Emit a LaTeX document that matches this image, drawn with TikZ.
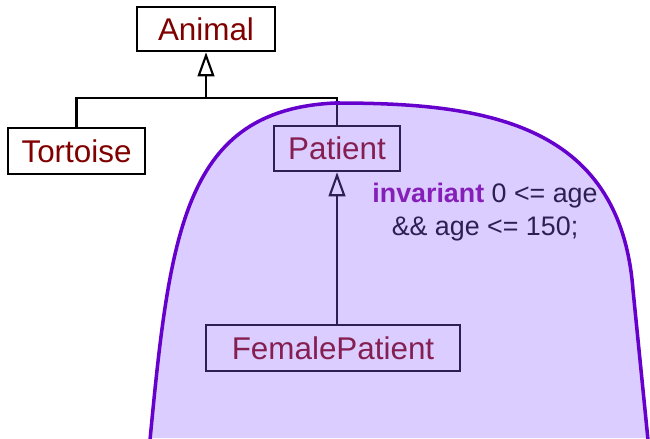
\documentclass[tikz,border=0pt]{standalone}
\usepackage{fontspec}
\setmainfont{Liberation Sans}
\usetikzlibrary{arrows.meta}
\definecolor{classred}{RGB}{128,0,0}
\definecolor{invpurple}{RGB}{128,0,150}
\definecolor{blobfill}{RGB}{144,98,255}
\definecolor{blobline}{RGB}{102,0,204}

\begin{document}
\begin{tikzpicture}[
  x=0.03cm, y=0.03cm,
  my class/.style={
    draw, line width=2.2pt,
    text=classred,
    font=\fontsize{26.8}{30}\selectfont,
    inner sep=0pt,
  },
  my inherit/.style={
    line width=2.2pt,
    -{Triangle[open, length=0.72cm, width=0.5cm, line width=1.8pt]},
  }]
  \useasboundingbox (0,0) rectangle (650,438);
  \node[my class, minimum width=4.14cm, minimum height=1.32cm] (Animal) at (206,409) {Animal};
  \node[my class, minimum width=4.11cm, minimum height=1.38cm] (Tortoise) at (76.5,287) {Tortoise};
  \node[my class, minimum width=3.78cm, minimum height=1.35cm] (Patient) at (337,289.5) {Patient};
  \node[my class, minimum width=7.62cm, minimum height=1.38cm] (FemalePatient) at (333,90) {FemalePatient};
  \coordinate (junction) at (206,340);
  \draw[line width=2.2pt] (Tortoise.north) |- (junction) -| (Patient.north);
  \draw[my inherit] (junction) -- (Animal.south);
  \draw[my inherit] (Patient.south |- FemalePatient.north) -- (Patient.south);
  \node[align=center, font=\fontsize{22.9}{28.2}\selectfont] (inv) at (485,226)
    {\textcolor{invpurple}{\textbf{invariant}} 0 <= age\\ \&\& age <= 150;};
  % the shaded region
  \fill[blobfill, fill opacity=0.32] (150,0) .. controls (170,208) and (185,328) .. (335,335)
    .. controls (480,335) and (620,318) .. (633,148) -- (648,0) -- cycle;
  \draw[blobline, line width=3pt] (150,-2) .. controls (170,208) and (185,328) .. (335,335)
    .. controls (480,335) and (620,318) .. (633,148) -- (648,-2);
\end{tikzpicture}
\end{document}
